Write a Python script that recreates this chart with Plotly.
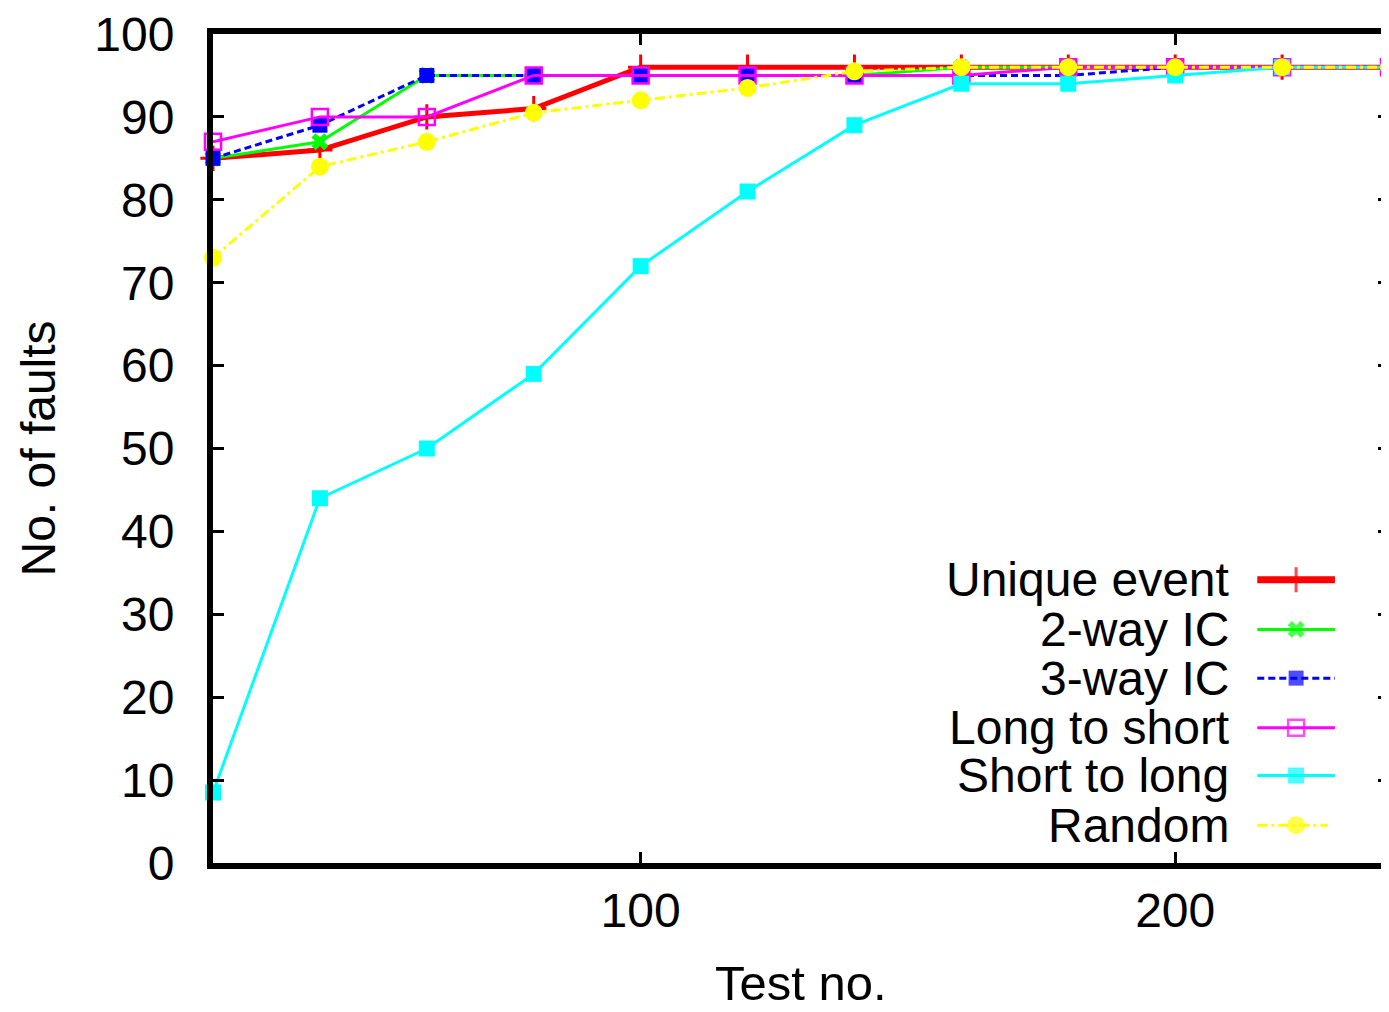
import plotly.graph_objects as go

# ---- data ----
tests = [20, 40, 60, 80, 100, 120, 140, 160, 180, 200, 220, 240]
unique_event = [85, 86, 90, 91, 96, 96, 96, 96, 96, 96, 96, 96]
two_way_ic = [85, 87, 95, 95, 95, 95, 95, 96, 96, 96, 96, 96]
three_way_ic = [85, 89, 95, 95, 95, 95, 95, 95, 95, 96, 96, 96]
long_to_short = [87, 90, 90, 95, 95, 95, 95, 95, 96, 96, 96, 96]
short_to_long = [8.5, 44, 50, 59, 72, 81, 89, 94, 94, 95, 96, 96]
random_order = [73, 84, 87, 90.5, 92, 93.5, 95.5, 96, 96, 96, 96, 96]

series_names = ["Unique event", "2-way IC", "3-way IC", "Long to short", "Short to long", "Random"]
series_values = [unique_event, two_way_ic, three_way_ic, long_to_short, short_to_long, random_order]
x_ticks = [100, 200]
y_ticks = list(range(0, 101, 10))

# ---- styles ----
styles = [
    dict(color="#ff0000", width=5, dash="solid", symbol="cross-thin", size=18, mline=3),
    dict(color="#00ff00", width=3, dash="solid", symbol="x", size=15, mline=0),
    dict(color="#0000ff", width=3, dash="7px,4px", symbol="square", size=15, mline=0),
    dict(color="#ff00ff", width=3, dash="solid", symbol="square-open", size=16, mline=2.5),
    dict(color="#00ffff", width=3, dash="solid", symbol="square", size=16, mline=0),
    dict(color="#ffff00", width=3, dash="10px,4px,3px,4px", symbol="circle", size=18, mline=0),
]

FONT = "Liberation Sans, Arial, sans-serif"
fig = go.Figure()

for name, vals, st in zip(series_names, series_values, styles):
    fig.add_trace(go.Scatter(
        x=tests, y=vals, mode="lines+markers", name=name, showlegend=False,
        cliponaxis=False,
        line=dict(color=st["color"], width=st["width"], dash=st["dash"]),
        marker=dict(symbol=st["symbol"], size=st["size"], color=st["color"],
                    line=dict(color=st["color"], width=st["mline"])),
    ))

# right-side mirrored ticks (no right border line)
fig.add_trace(go.Scatter(x=[None], y=[None], yaxis="y2", showlegend=False, hoverinfo="skip"))

# ---- gnuplot-style legend (text right, sample left-to-right), paper coords ----
leg_text_x = 0.866
leg_rows = [0.3417, 0.2818, 0.2230, 0.1631, 0.1055, 0.0456]
leg_x0, leg_xm, leg_x1 = 0.888, 0.921, 0.954
annotations = []
for name, st, ry in zip(series_names, styles, leg_rows):
    x1 = leg_x1 if name != "Random" else 0.948
    lw = st["width"] if name != "Unique event" else 7
    fig.add_trace(go.Scatter(
        x=[leg_x0, leg_xm, x1], y=[ry, ry, ry], xaxis="x3", yaxis="y3",
        mode="lines+markers", showlegend=False, hoverinfo="skip", cliponaxis=False,
        line=dict(color=st["color"], width=lw, dash=st["dash"]),
        marker=dict(symbol=st["symbol"], size=[0, st["size"], 0], color=st["color"],
                    line=dict(color=st["color"], width=st["mline"])),
    ))
    annotations.append(dict(
        x=leg_text_x, y=ry, xref="paper", yref="paper", text=name, showarrow=False,
        xanchor="right", yanchor="middle", font=dict(family=FONT, size=48, color="black"),
    ))

annotations.append(dict(x=0.5, y=0, xref="paper", yref="paper", text="Test no.",
                        showarrow=False, xanchor="center", yanchor="middle", yshift=-120,
                        font=dict(family=FONT, size=49, color="black")))
annotations.append(dict(x=0, y=0.5, xref="paper", yref="paper", text="No. of faults",
                        showarrow=False, xanchor="center", yanchor="middle", xshift=-175,
                        textangle=-90, font=dict(family=FONT, size=48, color="black")))

# page body has an 8px margin: size the figure so the plot lands where the reference has it
fig.update_layout(
    width=1381, height=1004,
    margin=dict(l=205, r=0, t=22, b=149),
    paper_bgcolor="white", plot_bgcolor="white",
    font=dict(family=FONT, size=48, color="black"),
    annotations=annotations,
    xaxis=dict(range=[20, 240], tickvals=x_ticks, ticks="inside", ticklen=11, tickwidth=3,
               tickcolor="black", showline=True, linewidth=6, linecolor="black",
               mirror="ticks", showgrid=False, zeroline=False,
               tickfont=dict(family=FONT, size=48, color="black")),
    yaxis=dict(range=[0, 100], tickvals=y_ticks, ticks="inside", ticklen=11, tickwidth=3,
               tickcolor="black", showline=True, linewidth=6, linecolor="black",
               showgrid=False, zeroline=False, ticklabelstandoff=23,
               ticklabeloverflow="allow",
               tickfont=dict(family=FONT, size=48, color="black")),
    yaxis2=dict(range=[0, 100], tickvals=y_ticks, overlaying="y", side="right",
                ticks="inside", ticklen=11, tickwidth=3, tickcolor="black",
                showticklabels=False, showline=False, showgrid=False, zeroline=False),
    xaxis3=dict(range=[0, 1], overlaying="x", anchor="y3", visible=False),
    yaxis3=dict(range=[0, 1], overlaying="y", anchor="x3", visible=False),
)

fig.write_html("out.html")
